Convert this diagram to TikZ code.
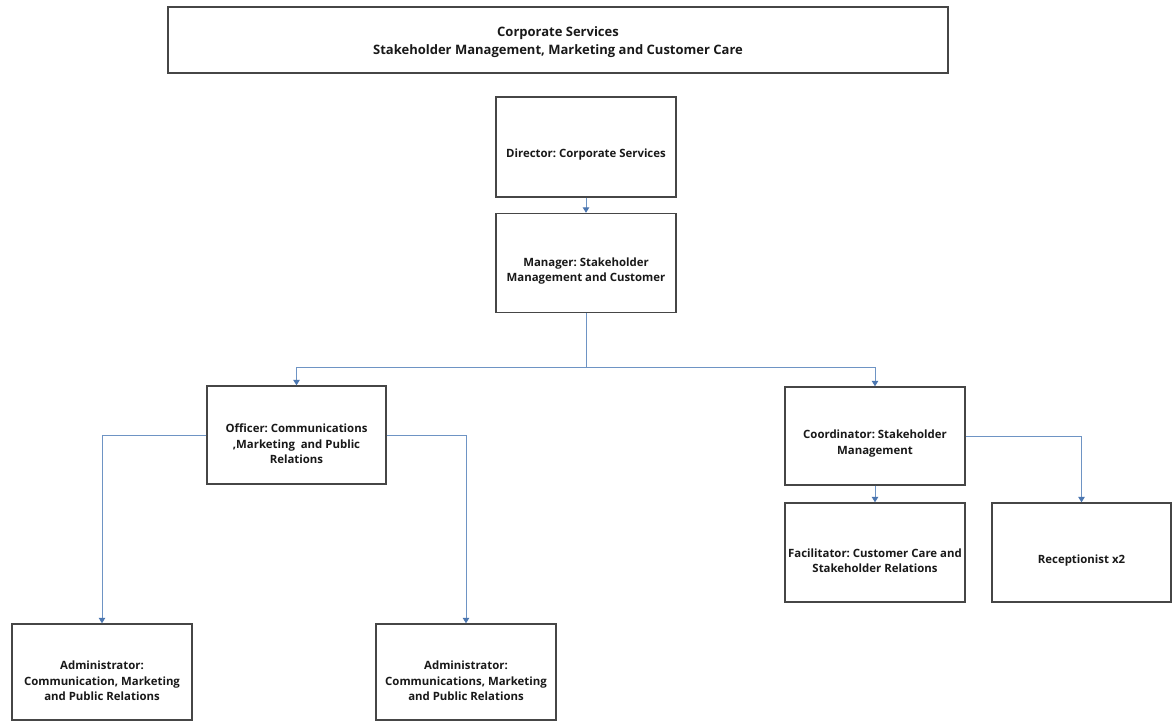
\documentclass[tikz,border=0pt]{standalone}
\usepackage{fontspec}
\setmainfont{Open Sans}
\usetikzlibrary{arrows.meta}
\definecolor{boxline}{RGB}{70,70,70}
\definecolor{conn}{RGB}{110,148,196}
\definecolor{tipc}{RGB}{75,118,176}
\begin{document}
\frenchspacing
\begin{tikzpicture}[x=1pt,y=-1pt,
  orgbox/.style={draw=boxline,line width=1.4pt,fill=white,inner sep=0pt},
  boxtext/.style={font=\fontsize{11.4}{15.5}\selectfont\bfseries,align=center,inner sep=0pt,text=black!90},
  titletext/.style={font=\fontsize{13}{18.5}\selectfont\bfseries,align=center,inner sep=0pt,text=black!90},
  link/.style={draw=conn,line width=1pt,-{Triangle[length=5.5pt,width=6.5pt,color=tipc]}},
  plain/.style={draw=conn,line width=1pt}]
\useasboundingbox (0,0) rectangle (1172,722);
\fill[white] (0,0) rectangle (1172,722);
% boxes
\node[orgbox,minimum width=780pt,minimum height=66pt] (title) at (558,40) {};
\node[titletext] (titleT) at ([yshift=-2pt]title.center) {Corporate Services\\Stakeholder Management, Marketing and Customer Care};

\node[orgbox,minimum width=180pt,minimum height=100pt] (dir) at (586,147) {};
\node[boxtext] (dirT) at ([yshift=-8pt]dir.center) {Director: Corporate Services};

\node[orgbox,minimum width=180pt,minimum height=99pt] (mgr) at (586,263) {};
\node[boxtext] (mgrT) at ([yshift=-8pt]mgr.center) {Manager: Stakeholder\\Management and Customer};

\node[orgbox,minimum width=179pt,minimum height=98pt] (off) at (296.5,435) {};
\node[boxtext] (offT) at ([yshift=-9pt]off.center) {Officer: Communications\\,Marketing\ \ and Public\\Relations};

\node[orgbox,minimum width=180pt,minimum height=98pt] (coo) at (875,436) {};
\node[boxtext] (cooT) at ([yshift=-7.5pt]coo.center) {Coordinator: Stakeholder\\Management};

\node[orgbox,minimum width=180pt,minimum height=99pt] (fac) at (875,552.5) {};
\node[boxtext] (facT) at ([yshift=-8pt]fac.center) {Facilitator: Customer Care and\\Stakeholder Relations};

\node[orgbox,minimum width=179pt,minimum height=99pt] (rec) at (1081.5,552.5) {};
\node[boxtext] (recT) at ([yshift=-8pt]rec.center) {Receptionist x2};

\node[orgbox,minimum width=180pt,minimum height=96pt] (adm1) at (102,672) {};
\node[boxtext] (adm1T) at ([yshift=-9pt]adm1.center) {Administrator:\\Communication, Marketing\\and Public Relations};

\node[orgbox,minimum width=180pt,minimum height=96pt] (adm2) at (466,672) {};
\node[boxtext] (adm2T) at ([yshift=-9pt]adm2.center) {Administrator:\\Communications, Marketing\\and Public Relations};

% connectors
\coordinate (split) at (586,367);
\draw[link] (dir.south) -- (mgr.north);
\draw[plain] (mgr.south) -- (split);
\draw[link] (split) -| (off.north);
\draw[link] (split) -| (coo.north);
\draw[link] (off.west) -| (adm1.north);
\draw[link] (off.east) -| (adm2.north);
\draw[link] (coo.east) -| (rec.north);
\draw[link] (coo.south) -- (fac.north);
\end{tikzpicture}
\end{document}
